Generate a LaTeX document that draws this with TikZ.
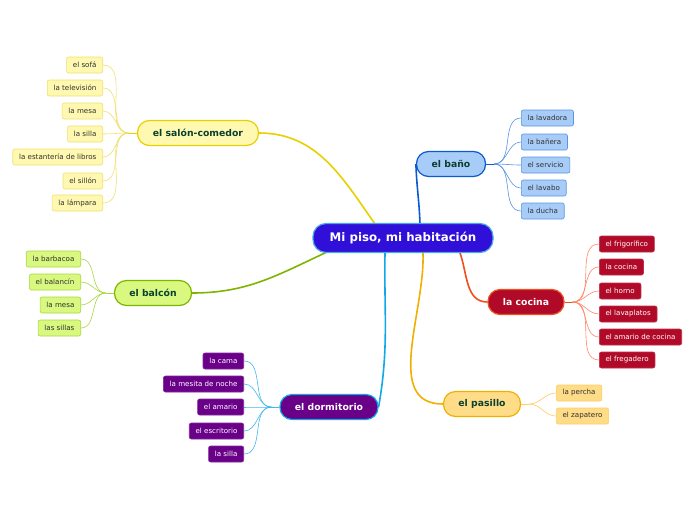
\documentclass[tikz,border=0pt]{standalone}
\usepackage{fontspec}
\setmainfont{DejaVu Sans}

\definecolor{rootfill}{HTML}{3010D8}
\definecolor{rootline}{HTML}{4AA8E8}
\definecolor{topictext}{HTML}{0A4030}
\definecolor{leaftext}{HTML}{303030}
\definecolor{salonfill}{HTML}{FFF8B0}
\definecolor{salonline}{HTML}{E8D000}
\definecolor{salonleaf}{HTML}{F0E070}
\definecolor{banofill}{HTML}{A8CCF8}
\definecolor{banoline}{HTML}{0A5AD0}
\definecolor{banoleaf}{HTML}{5A94E4}
\definecolor{balconfill}{HTML}{D8F880}
\definecolor{balconline}{HTML}{80B400}
\definecolor{balconleaf}{HTML}{A8D840}
\definecolor{cocinafill}{HTML}{B00A28}
\definecolor{cocinaline}{HTML}{F05020}
\definecolor{cocinaleaf}{HTML}{FF8868}
\definecolor{dormfill}{HTML}{6A0088}
\definecolor{dormline}{HTML}{10A8E8}
\definecolor{dormleaf}{HTML}{40B8F0}
\definecolor{pasillofill}{HTML}{FFDC88}
\definecolor{pasilloline}{HTML}{F0B000}
\definecolor{pasilloleaf}{HTML}{FFCC60}

\tikzset{
  root/.style={draw=rootline, fill=rootfill, line width=1.2pt, rounded corners=13pt,
    text=white, font=\bfseries\fontsize{11.8}{13}\selectfont,
    minimum width=180pt, minimum height=29pt},
  topic/.style={line width=1.2pt, rounded corners=12pt, text=topictext,
    font=\bfseries\fontsize{9.3}{11}\selectfont, minimum height=25pt, inner xsep=0pt},
  leaf/.style={line width=0.6pt, rounded corners=2pt, text=leaftext,
    font=\fontsize{7.1}{8}\selectfont, minimum height=16pt, inner xsep=6.3pt},
  twig/.style={line width=0.6pt},
  branch/.style={line width=1.6pt}
}

\begin{document}
\begin{tikzpicture}[x=1pt,y=1pt]
\useasboundingbox (0,0) rectangle (696,-520);
\fill[white] (0,0) rectangle (696,-520);

% branches from the centre
\coordinate (c1) at (375,-224);
\coordinate (c2) at (420,-224);
\coordinate (c3) at (327,-252);
\coordinate (c4) at (460,-253);
\coordinate (c5) at (385,-253);
\coordinate (c6) at (423,-253);

\node[topic, draw=salonline, fill=salonfill, minimum width=121pt] (salon) at (198,-133) {el salón-comedor};
\node[topic, draw=banoline, fill=banofill, minimum width=69pt] (bano) at (451,-164) {el baño};
\node[topic, draw=balconline, fill=balconfill, minimum width=77pt] (balcon) at (153,-293) {el balcón};
\node[topic, draw=cocinaline, fill=cocinafill, text=white, minimum width=76pt] (cocina) at (526,-302) {la cocina};
\node[topic, draw=dormline, fill=dormfill, text=white, minimum width=98pt] (dorm) at (329,-407) {el dormitorio};
\node[topic, draw=pasilloline, fill=pasillofill, minimum width=77pt] (pasillo) at (482,-404) {el pasillo};

\draw[branch, salonline] (c1) to[out=125, in=0] (salon.east);
\draw[branch, banoline] (c2) to[out=92, in=-88] (bano.west);
\draw[branch, balconline] (c3) to[out=205, in=0] (balcon.east);
\draw[branch, cocinaline] (c4) to[out=-70, in=180] (cocina.west);
\draw[branch, dormline] (c5) to[out=-91, in=80] (dorm.east);
\draw[branch, pasilloline] (c6) to[out=-88, in=180] (pasillo.west);

\node[root] (hub) at (403,-238) {Mi piso, mi habitación};

% el salón-comedor
\draw[twig, salonline] (salon.west) -- ++(-8,0) coordinate (sh);
\foreach \n/\y/\t in {1/65/el sofá, 2/88/la televisión, 3/111/la mesa, 4/134/la silla,
    5/157/la estantería de libros, 6/181/el sillón, 7/203/la lámpara} {
  \node[leaf, draw=salonleaf, fill=salonfill, anchor=east] (s\n) at (103,-\y) {\t};
  \draw[twig, salonleaf] (sh) to[out=180, in=0] (s\n.east);
}

% el baño
\draw[twig, banoline] (bano.east) -- ++(8,0) coordinate (bh);
\foreach \n/\y/\t in {1/118/la lavadora, 2/142/la bañera, 3/165/el servicio,
    4/188/el lavabo, 5/211/la ducha} {
  \node[leaf, draw=banoleaf, fill=banofill, anchor=west] (b\n) at (521,-\y) {\t};
  \draw[twig, banoleaf] (bh) to[out=0, in=180] (b\n.west);
}

% el balcón
\draw[twig, balconleaf] (balcon.west) -- ++(-8,0) coordinate (lh);
\foreach \n/\y/\t in {1/259/la barbacoa, 2/282/el balancín, 3/305/la mesa, 4/328/las sillas} {
  \node[leaf, draw=balconleaf, fill=balconfill, anchor=east] (l\n) at (81,-\y) {\t};
  \draw[twig, balconleaf] (lh) to[out=180, in=0] (l\n.east);
}

% la cocina
\draw[twig, cocinaline] (cocina.east) -- ++(8,0) coordinate (kh);
\foreach \n/\y/\t in {1/244/el frigorífico, 2/267/la cocina, 3/291/el horno,
    4/314/el lavaplatos, 5/337/el amario de cocina, 6/360/el fregadero} {
  \node[leaf, draw=cocinafill!85!white, fill=cocinafill, text=white, anchor=west] (k\n) at (599,-\y) {\t};
  \draw[twig, cocinaleaf] (kh) to[out=0, in=180] (k\n.west);
}

% el dormitorio
\draw[twig, dormleaf] (dorm.west) -- ++(-8,0) coordinate (dh);
\foreach \n/\y/\t in {1/361/la cama, 2/384/la mesita de noche, 3/407/el amario,
    4/431/el escritorio, 5/454/la silla} {
  \node[leaf, draw=dormfill!85!white, fill=dormfill, text=white, anchor=east] (d\n) at (244,-\y) {\t};
  \draw[twig, dormleaf] (dh) to[out=180, in=0] (d\n.east);
}

% el pasillo
\draw[twig, pasilloleaf] (pasillo.east) -- ++(8,0) coordinate (ph);
\foreach \n/\y/\t in {1/393/la percha, 2/416/el zapatero} {
  \node[leaf, draw=pasilloleaf, fill=pasillofill, anchor=west] (p\n) at (556,-\y) {\t};
  \draw[twig, pasilloleaf] (ph) to[out=0, in=180] (p\n.west);
}
\end{tikzpicture}
\end{document}
